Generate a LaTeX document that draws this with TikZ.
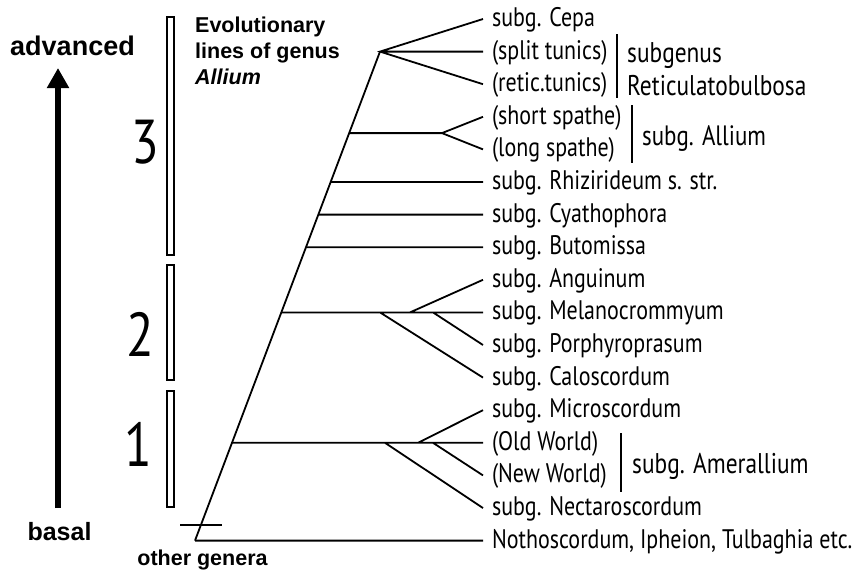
\documentclass[tikz,border=0pt]{standalone}
\usepackage{fontspec}
\setmainfont{Liberation Sans}
\newfontfamily\condsf{PT Sans}[FakeStretch=0.82]
\usetikzlibrary{arrows.meta,calc}

\begin{document}
\begin{tikzpicture}[x=1pt,y=-1pt,
    br/.style={line width=1.8pt},
    bar/.style={line width=2.4pt},
    lab/.style={font=\condsf\fontsize{26.8}{26.8}\selectfont,anchor=west,inner xsep=9pt,inner ysep=0pt,outer sep=0pt,text height=15pt,text depth=0pt},
    grp/.style={font=\condsf\fontsize{#1}{#1}\selectfont,anchor=base west,inner sep=0pt},
    hd/.style={font=\bfseries\fontsize{#1}{#1}\selectfont,inner sep=0pt},
    num/.style={font=\condsf\fontsize{62}{62}\selectfont,inner sep=0pt}]
    \useasboundingbox (0,0) rectangle (863,573);
    % left scale
    \node[hd=27] (adv) at (72.5,46) {advanced};
    \node[hd=25] (bas) at (59.5,532) {basal};
    \coordinate (lo) at (58,508); \coordinate (hi) at (58,68);
    \draw[line width=6pt,-{Triangle[length=20pt,width=21pt]}] (lo) -- (hi);
    \foreach \a/\b in {17/255,265/380,391/507}{\draw[line width=1.2pt] (167,\a) rectangle (174,\b);}
    \node[num] (s3) at (145,142) {3};
    \node[num] (s2) at (140,334) {2};
    \node[num] (s1) at (138,444) {1};
    \node[font=\bfseries\fontsize{21.5}{26}\selectfont,inner sep=0pt,anchor=north west,align=left] (ttl) at (195,17) {Evolutionary\\lines of genus\\\textit{Allium}};
    \node[hd=21.5] (oth) at (202.5,560) {other genera};
    % tips
    \foreach \k/\n/\t in {0/cepa/subg. Cepa, 1/split/(split tunics), 2/retic/(retic.tunics), 3/short/(short spathe), 4/long/(long spathe),
        5/rhiz/subg. Rhizirideum s. str., 6/cyath/subg. Cyathophora, 7/buto/subg. Butomissa, 8/angu/subg. Anguinum,
        9/mela/subg. Melanocrommyum, 10/porph/subg. Porphyroprasum, 11/calo/subg. Caloscordum, 12/micro/subg. Microscordum,
        13/oldw/(Old World), 14/neww/(New World), 15/nect/subg. Nectaroscordum, 16/notho/{Nothoscordum, Ipheion, Tulbaghia etc.}}
      {\node[lab] (\n) at (483,{19+32.6*\k}) {\t};}
    % trunk
    \coordinate (base) at (195,540.6);
    \coordinate (top) at (380,51.6);
    \draw[br] (base) -- (top);
    \draw[br] (cepa.west) -- (top) -- (retic.west) (top) -- (split.west);
    \coordinate (al0) at ($(base)!12.5/15!(top)$); \coordinate (al1) at (442,133.1);
    \draw[br] (al0) -- (al1) (short.west) -- (al1) -- (long.west);
    \foreach \f/\n in {11/rhiz,10/cyath,9/buto}{\draw[br] ($(base)!\f/15!(top)$) -- (\n.west);}
    % line 2
    \coordinate (m0) at ($(base)!7/15!(top)$);
    \coordinate (m1) at (380,312.4); \coordinate (m2) at (410,312.4); \coordinate (m3) at (433,312.4);
    \draw[br] (m0) -- (mela.west) (m1) -- (calo.west) (m2) -- (angu.west) (m3) -- (porph.west);
    % line 1
    \coordinate (a0) at ($(base)!3/15!(top)$);
    \coordinate (a1) at (385,442.8); \coordinate (a2) at (418,442.8); \coordinate (a3) at (433,442.8);
    \draw[br] (a0) -- (oldw.west) (a1) -- (nect.west) (a2) -- (micro.west) (a3) -- (neww.west);
    \draw[br] (base) -- (notho.west);
    \draw[line width=1.2pt] (180,525) -- (222,525);
    % subgenera
    \draw[bar] (617,34) -- (617,98);
    \node[grp=28.5] (sgn) at (627,62) {subgenus};
    \node[grp=28.5] (reti) at (627,95) {Reticulatobulbosa};
    \draw[bar] (632,105) -- (632,163);
    \node[grp=28] (alli) at (642,145) {subg. Allium};
    \draw[bar] (621,433) -- (621,492);
    \node[grp=28.5] (amer) at (632,473) {subg. Amerallium};
\end{tikzpicture}
\end{document}
